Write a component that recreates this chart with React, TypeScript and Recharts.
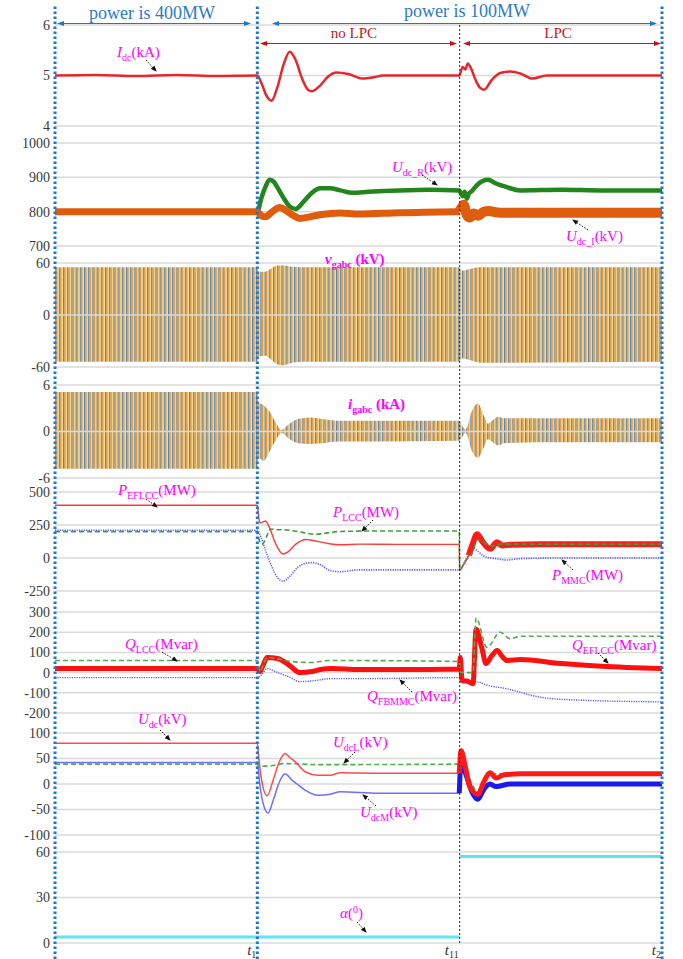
import React from 'react';
import { ComposedChart, Line, Area, XAxis, YAxis, ReferenceLine } from 'recharts';

// time axis runs 0 .. t2, with t1 = 1, t11 = 2, t2 = 3
const xTicks = [1, 2, 3];
const xTickLabels = ['1', '11', '2'];

// panel tick labels
const p1Ticks = [6, 5, 4];
const p2Ticks = [1000, 900, 800, 700];
const p3Ticks = [60, 0, -60];
const p4Ticks = [6, 0, -6];
const p5Ticks = [500, 250, 0, -250];
const p6Ticks = [300, 200, 100, 0, -100, -200];
const p7Ticks = [100, 50, 0, -50, -100];
const p8Ticks = [60, 30, 0];

// Idc (kA)
const idc = [
  [0, 5], [0.2, 5.01], [0.4, 4.99], [0.6, 5.01], [0.8, 4.99], [1.0, 5.0], [1.02, 4.85], [1.045, 4.6],
  [1.07, 4.5], [1.1, 4.78], [1.13, 5.22], [1.16, 5.47], [1.19, 5.3], [1.22, 4.95], [1.25, 4.72],
  [1.27, 4.69], [1.31, 4.8], [1.35, 4.98], [1.39, 5.06], [1.45, 5.03], [1.52, 4.94], [1.58, 4.97],
  [1.62, 5.0], [1.8, 5.0], [1.998, 5.0], [2.015, 5.17], [2.028, 5.12], [2.04, 5.24], [2.055, 5.15],
  [2.08, 4.9], [2.1, 4.76], [2.12, 4.72], [2.16, 4.92], [2.2, 5.05], [2.25, 5.08], [2.3, 5.04],
  [2.36, 4.94], [2.43, 5.0], [3, 5.0],
];

// Udc_R / Udc_I (kV)
const udcR = [
  [0, 800], [1.0, 800], [1.02, 840], [1.04, 872], [1.06, 893], [1.08, 888], [1.1, 870], [1.13, 840],
  [1.16, 815], [1.19, 808], [1.23, 830], [1.27, 855], [1.31, 868], [1.36, 868], [1.41, 862],
  [1.47, 855], [1.55, 858], [1.7, 862], [1.85, 864], [1.998, 862], [2.015, 845], [2.025, 858],
  [2.035, 838], [2.045, 852], [2.06, 860], [2.09, 880], [2.14, 893], [2.18, 882], [2.23, 872],
  [2.3, 862], [2.5, 864], [2.7, 862], [3, 862],
];
const udcI = [
  [0, 800], [1.0, 800], [1.02, 788], [1.04, 785], [1.07, 798], [1.11, 812], [1.15, 800], [1.18, 788],
  [1.21, 780], [1.26, 785], [1.31, 791], [1.41, 796], [1.5, 793], [1.7, 797], [1.998, 800],
];
const udcILpc = [
  [1.998, 800], [2.01, 812], [2.02, 820], [2.035, 790], [2.05, 783], [2.07, 795], [2.09, 788],
  [2.12, 800], [2.14, 802], [2.2, 797], [3, 797],
];

// vgabc (kV) and igabc (kA) envelopes: [t, low, high]
const vgEnv = [
  [0, -54, 55], [1.0, -54, 55], [1.005, -48, 50], [1.04, -47, 50], [1.07, -52, 54], [1.1, -57, 57],
  [1.13, -58, 57], [1.16, -56, 56], [1.22, -54, 55], [1.998, -54, 55], [2.01, -50, 51],
  [2.05, -52, 53], [2.1, -55, 55], [3, -54, 55],
];
const igEnv = [
  [0, -4.8, 5.1], [1.0, -4.8, 5.1], [1.005, -3.4, 3.8], [1.03, -3.8, 3.4], [1.06, -2.6, 2.6],
  [1.09, -1.2, 1.2], [1.12, -0.2, 0.2], [1.15, -0.8, 0.8], [1.2, -1.5, 1.6], [1.26, -1.6, 1.8],
  [1.32, -1.5, 1.6], [1.4, -1.3, 1.4], [1.6, -1.3, 1.4], [1.998, -1.2, 1.4], [2.015, -0.6, 0.6],
  [2.03, -0.2, 0.3], [2.06, -2.5, 2.6], [2.09, -3.4, 3.6], [2.12, -2, 2], [2.14, -1, 1],
  [2.17, -1.5, 1.6], [2.19, -1.8, 1.9], [2.22, -1.5, 1.7], [2.4, -1.4, 1.7], [3, -1.4, 1.7],
];

// P (MW)
const pEflcc = [
  [0, 400], [1.0, 400], [1.005, 330], [1.013, 265], [1.03, 275], [1.04, 280], [1.06, 230],
  [1.09, 110], [1.127, 30], [1.15, 45], [1.19, 105], [1.24, 140], [1.29, 128], [1.35, 110],
  [1.41, 100], [1.5, 105], [1.7, 103], [1.998, 103], [2.0, -95], [2.02, -50], [2.045, 20],
];
const pEflccLpc = [
  [2.045, 20], [2.065, 110], [2.086, 180], [2.11, 130], [2.15, 70], [2.185, 120], [2.21, 95],
  [2.25, 100], [2.4, 105], [3, 105],
];
const pLcc = [
  [0, 200], [1.0, 200], [1.01, 130], [1.025, 105], [1.045, 160], [1.065, 220], [1.09, 215],
  [1.15, 212], [1.2, 200], [1.29, 180], [1.4, 200], [1.6, 205], [1.998, 205], [2.0, -90],
  [2.03, -20], [2.06, 30], [2.09, 140], [2.12, 120], [2.16, 90], [2.2, 105], [3, 105],
];
const pMmc = [
  [0, 210], [1.0, 210], [1.02, 150], [1.04, 60], [1.07, -60], [1.1, -150], [1.127, -175],
  [1.16, -140], [1.2, -70], [1.24, -40], [1.27, -35], [1.31, -50], [1.36, -95], [1.41, -104],
  [1.5, -90], [1.7, -90], [1.998, -90], [2.02, -40], [2.05, 40], [2.066, 75], [2.09, 50],
  [2.12, 15], [2.135, 5], [2.18, -5], [2.23, -15], [2.3, -5], [2.5, 0], [3, 0],
];

// Q (Mvar)
const qEflcc = [
  [0, 20], [1.0, 20], [1.013, 5], [1.03, 40], [1.048, 75], [1.1, 70], [1.16, 35], [1.21, 0],
  [1.27, 5], [1.31, 15], [1.37, 20], [1.5, 15], [1.7, 15], [1.998, 18], [2.003, 75], [2.012, -40],
  [2.036, -42], [2.066, -55], [2.081, 215], [2.11, 120], [2.13, 45], [2.16, 85], [2.185, 110],
  [2.21, 80], [2.234, 60], [2.3, 65], [2.5, 45], [2.7, 32], [3, 20],
];
const qLcc = [
  [0, 60], [1.0, 60], [1.013, 5], [1.03, 40], [1.048, 75], [1.1, 68], [1.14, 60], [1.2, 52],
  [1.27, 50], [1.35, 60], [1.998, 55], [2.006, 0], [2.066, 0], [2.081, 270], [2.135, 125],
  [2.2, 200], [2.25, 168], [2.3, 180], [3, 180],
];
const qFbmmc = [
  [0, -25], [1.0, -25], [1.025, -5], [1.048, 20], [1.1, 0], [1.16, -23], [1.21, -45], [1.28, -40],
  [1.36, -30], [1.5, -30], [1.998, -25], [2.036, -38], [2.06, -45], [2.1, -48], [2.115, -55],
  [2.234, -80], [2.4, -122], [2.56, -135], [3, -145],
];

// Udc (kV)
const udc = [
  [0, 80], [1.0, 80], [1.005, 60], [1.02, 10], [1.048, -23], [1.08, 10], [1.11, 45], [1.137, 60],
  [1.16, 52], [1.186, 44], [1.236, 24], [1.3, 17], [1.36, 17], [1.41, 22], [1.6, 21], [1.998, 21],
];
const udcLpc = [
  [1.998, 21], [2.007, 65], [2.03, 30], [2.05, -5], [2.09, -20], [2.12, 5], [2.15, 22],
  [2.18, 12], [2.22, 18], [2.3, 20], [3, 20],
];
const udcM = [
  [0, 42], [1.0, 42], [1.012, 0], [1.03, -40], [1.053, -57], [1.08, -30], [1.11, 5], [1.137, 20],
  [1.17, 8], [1.196, 0], [1.236, -12], [1.3, -22], [1.36, -20], [1.41, -15], [1.6, -18], [1.998, -18],
];
const udcMLpc = [
  [1.998, -18], [2.007, 45], [2.03, 20], [2.06, -15], [2.09, -30], [2.12, -10], [2.15, 0],
  [2.18, -5], [2.25, 0], [3, 0],
];
const udcL = [
  [0, 39], [1.0, 39], [1.02, 35], [1.05, 35], [1.137, 40], [1.3, 38], [1.998, 39], [2.007, 40],
  [2.03, 30], [2.06, 0], [2.09, -15], [2.15, 20], [3, 20],
];

// alpha (deg), before and after t11
const alphaNoLpc = [[0, 4], [2.0, 4]];
const alphaLpc = [[2.0, 57], [3, 57]];

// layout: where each panel's top and bottom tick sit (px)
const PLOT_TOP = 5;
const PLOT_BOTTOM = 959;
const panels = [
  { id: 'p1', ticks: p1Ticks, yTop: 25, yBot: 126 },
  { id: 'p2', ticks: p2Ticks, yTop: 143, yBot: 246 },
  { id: 'p3', ticks: p3Ticks, yTop: 263, yBot: 367 },
  { id: 'p4', ticks: p4Ticks, yTop: 385, yBot: 478 },
  { id: 'p5', ticks: p5Ticks, yTop: 492, yBot: 591 },
  { id: 'p6', ticks: p6Ticks, yTop: 612, yBot: 713 },
  { id: 'p7', ticks: p7Ticks, yTop: 733, yBot: 835 },
  { id: 'p8', ticks: p8Ticks, yTop: 852, yBot: 943 },
];

const scaleOf = (p) => (p.yBot - p.yTop) / (p.ticks[0] - p.ticks[p.ticks.length - 1]);
const domainOf = (p) => {
  const s = scaleOf(p);
  const vTop = p.ticks[0];
  const vBot = p.ticks[p.ticks.length - 1];
  return [vBot - (PLOT_BOTTOM - p.yBot) / s, vTop + (p.yTop - PLOT_TOP) / s];
};
const valueAt = (p, px) => p.ticks[0] + (p.yTop - px) / scaleOf(p);

const pts = (arr) => arr.map(([t, v]) => ({ t, v }));
const env = (arr) => arr.map(([t, lo, hi]) => ({ t, r: [lo, hi] }));

const SERIF = '"Liberation Serif", "Times New Roman", serif';
const MAG = '#ff00ff';
const BLUE = '#1d76cf';

const XTick = (props) => {
  const { x, y, payload } = props;
  const i = xTicks.indexOf(payload.value);
  return (
    <text x={x - 1} y={y} textAnchor="end" fontFamily={SERIF} fill="#333">
      <tspan fontStyle="italic" fontSize={15}>t</tspan>
      <tspan fontSize={10} dy={3}>{xTickLabels[i]}</tspan>
    </text>
  );
};

const VarLabel = ({ x, y, main, sub, unit, bold }) => (
  <text x={x} y={y} fill={MAG} fontFamily={SERIF} fontSize={15} fontWeight={bold ? 'bold' : 'normal'}>
    <tspan fontStyle="italic">{main}</tspan>
    <tspan fontSize={10} dy={4}>{sub}</tspan>
    <tspan dy={-4}>{unit}</tspan>
  </text>
);

const Pointer = ({ x1, y1, x2, y2 }) => (
  <line x1={x1} y1={y1} x2={x2} y2={y2} stroke="#111" strokeWidth={1} strokeDasharray="1.5 1.5" markerEnd="url(#ptr)" />
);

const Overlay = () => (
  <svg width={683} height={959} style={{ position: 'absolute', left: 0, top: 0, pointerEvents: 'none' }}>
    <defs>
      <marker id="ptr" markerWidth="6" markerHeight="6" refX="5" refY="3" orient="auto">
        <path d="M0,0.5 L6,3 L0,5.5 z" fill="#111" />
      </marker>
      <marker id="bh" markerWidth="7" markerHeight="6" refX="6" refY="3" orient="auto-start-reverse">
        <path d="M0,0.5 L7,3 L0,5.5 z" fill={BLUE} />
      </marker>
      <marker id="rh" markerWidth="7" markerHeight="6" refX="6" refY="3" orient="auto-start-reverse">
        <path d="M0,0.5 L7,3 L0,5.5 z" fill="#d01010" />
      </marker>
    </defs>
    <text x={152} y={19} textAnchor="middle" fontFamily={SERIF} fontSize={18} fill="#2b7bc4">power is 400MW</text>
    <text x={467} y={17} textAnchor="middle" fontFamily={SERIF} fontSize={18} fill="#2b7bc4">power is 100MW</text>
    <line x1={58} y1={23.5} x2={250} y2={23.5} stroke={BLUE} strokeWidth={1} markerStart="url(#bh)" markerEnd="url(#bh)" />
    <line x1={273} y1={23.5} x2={656} y2={23.5} stroke={BLUE} strokeWidth={1} markerStart="url(#bh)" markerEnd="url(#bh)" />
    <text x={377} y={38} textAnchor="end" fontFamily={SERIF} fontSize={15} fill="#c81818">no LPC</text>
    <text x={558} y={38} textAnchor="middle" fontFamily={SERIF} fontSize={15} fill="#c81818">LPC</text>
    <line x1={261} y1={43.5} x2={456} y2={43.5} stroke="#d01010" strokeWidth={1} markerStart="url(#rh)" markerEnd="url(#rh)" />
    <line x1={464} y1={43.5} x2={660} y2={43.5} stroke="#d01010" strokeWidth={1} markerStart="url(#rh)" markerEnd="url(#rh)" />

    <VarLabel x={117} y={57} main="I" sub="dc" unit="(kA)" />
    <Pointer x1={146} y1={60} x2={156} y2={71} />
    <VarLabel x={392} y={172} main="U" sub="dc_R" unit="(kV)" />
    <Pointer x1={422} y1={175} x2={437} y2={185} />
    <VarLabel x={566} y={241} main="U" sub="dc_I" unit="(kV)" />
    <Pointer x1={588} y1={230} x2={573} y2={220} />
    <VarLabel x={325} y={264} main="v" sub="gabc" unit=" (kV)" bold />
    <VarLabel x={348} y={409} main="i" sub="gabc" unit=" (kA)" bold />
    <VarLabel x={118} y={495} main="P" sub="EFLCC" unit="(MW)" />
    <Pointer x1={146} y1={499} x2={157} y2={507} />
    <VarLabel x={333} y={517} main="P" sub="LCC" unit="(MW)" />
    <Pointer x1={373} y1={520} x2={362} y2={531} />
    <VarLabel x={552} y={580} main="P" sub="MMC" unit="(MW)" />
    <Pointer x1={573} y1={570} x2={562} y2={560} />
    <VarLabel x={125} y={649} main="Q" sub="LCC" unit="(Mvar)" />
    <Pointer x1={162} y1={652} x2={177} y2={661} />
    <VarLabel x={367} y={701} main="Q" sub="FBMMC" unit="(Mvar)" />
    <Pointer x1={412} y1={692} x2={400} y2={680} />
    <VarLabel x={572} y={650} main="Q" sub="EFLCC" unit="(Mvar)" />
    <Pointer x1={598} y1={653} x2={608} y2={663} />
    <VarLabel x={138} y={724} main="U" sub="dc" unit="(kV)" />
    <Pointer x1={160} y1={730} x2={170} y2={740} />
    <VarLabel x={333} y={747} main="U" sub="dcL" unit="(kV)" />
    <Pointer x1={355} y1={752} x2={344} y2={763} />
    <VarLabel x={360} y={817} main="U" sub="dcM" unit="(kV)" />
    <Pointer x1={376} y1={806} x2={363} y2={795} />
    <text x={340} y={918} fill={MAG} fontFamily={SERIF} fontSize={15}>
      <tspan fontStyle="italic">α</tspan>
      <tspan>(</tspan>
      <tspan fontSize={10} dy={-5}>0</tspan>
      <tspan dy={5}>)</tspan>
    </text>
    <Pointer x1={357} y1={922} x2={366} y2={932} />
  </svg>
);

export default function App() {
  const P8 = panels[7];
  return (
    <div style={{ position: 'absolute', left: 0, top: 0, width: 683, height: 959, background: '#fff' }}>
      <ComposedChart width={683} height={959} margin={{ top: PLOT_TOP, right: 21, bottom: 0, left: 54.92 }}>
        <defs>
          <pattern id="weave" patternUnits="userSpaceOnUse" width="4.2" height="10">
            <rect width="4.2" height="10" fill="#f5dc94" />
            <rect x="0" width="1" height="10" fill="#4a86c4" />
            <rect x="1" width="0.5" height="10" fill="#c99a5a" />
            <rect x="1.5" width="0.9" height="10" fill="#e98a30" />
            <rect x="2.4" width="0.4" height="10" fill="#d8a860" />
          </pattern>
        </defs>
        <XAxis
          type="number"
          dataKey="t"
          domain={[0, 3]}
          ticks={xTicks}
          height={0.01}
          mirror
          axisLine={false}
          tickLine={false}
          tickSize={0}
          tickMargin={4}
          tick={<XTick />}
          interval={0}
        />
        {panels.map((p) => (
          <YAxis
            key={p.id}
            yAxisId={p.id}
            type="number"
            width={0.01}
            domain={domainOf(p)}
            allowDataOverflow
            ticks={p.ticks}
            interval={0}
            axisLine={false}
            tickLine={false}
            tickSize={0}
            tickMargin={5}
            tick={{ fontFamily: SERIF, fontSize: 14, fill: '#3a3a3a' }}
          />
        ))}
        {panels.flatMap((p) =>
          p.ticks.map((v) => (
            <ReferenceLine key={p.id + v} yAxisId={p.id} y={v} stroke="#dadada" strokeWidth={1.5} />
          ))
        )}

        <Line yAxisId="p1" data={pts(idc)} dataKey="v" type="monotone" stroke="#e8262b" strokeWidth={2.5} dot={false} isAnimationActive={false} />

        <Line yAxisId="p2" data={pts(udcR)} dataKey="v" type="monotone" stroke="#23861c" strokeWidth={4.5} dot={false} isAnimationActive={false} />
        <Line yAxisId="p2" data={pts(udcI)} dataKey="v" type="monotone" stroke="#df5c0c" strokeWidth={7} dot={false} isAnimationActive={false} />
        <Line yAxisId="p2" data={pts(udcILpc)} dataKey="v" type="monotone" stroke="#df5c0c" strokeWidth={10} dot={false} isAnimationActive={false} />

        <Area yAxisId="p3" data={env(vgEnv)} dataKey="r" type="monotone" stroke="none" fill="url(#weave)" fillOpacity={1} isAnimationActive={false} />
        <Area yAxisId="p4" data={env(igEnv)} dataKey="r" type="monotone" stroke="none" fill="url(#weave)" fillOpacity={1} isAnimationActive={false} />

        <Line yAxisId="p5" data={pts(pMmc)} dataKey="v" type="monotone" stroke="#5a5aff" strokeWidth={1.6} strokeDasharray="1.2 1.2" dot={false} isAnimationActive={false} />
        <Line yAxisId="p5" data={pts(pEflcc)} dataKey="v" type="monotone" stroke="#ff3b3b" strokeWidth={1.4} dot={false} isAnimationActive={false} />
        <Line yAxisId="p5" data={pts(pEflccLpc)} dataKey="v" type="monotone" stroke="#ff1a1a" strokeWidth={6} dot={false} isAnimationActive={false} />
        <Line yAxisId="p5" data={pts(pLcc)} dataKey="v" type="monotone" stroke="#3f9e3a" strokeWidth={1.6} strokeDasharray="5 3" dot={false} isAnimationActive={false} />

        <Line yAxisId="p6" data={pts(qFbmmc)} dataKey="v" type="monotone" stroke="#5a5aff" strokeWidth={1.4} strokeDasharray="1.2 1.2" dot={false} isAnimationActive={false} />
        <Line yAxisId="p6" data={pts(qEflcc)} dataKey="v" type="monotone" stroke="#ff1010" strokeWidth={5} dot={false} isAnimationActive={false} />
        <Line yAxisId="p6" data={pts(qLcc)} dataKey="v" type="monotone" stroke="#4fae4a" strokeWidth={1.6} strokeDasharray="5 3" dot={false} isAnimationActive={false} />

        <Line yAxisId="p7" data={pts(udcL)} dataKey="v" type="monotone" stroke="#4fae4a" strokeWidth={1.6} strokeDasharray="5 3" dot={false} isAnimationActive={false} />
        <Line yAxisId="p7" data={pts(udcM)} dataKey="v" type="monotone" stroke="#6f6fff" strokeWidth={1.5} dot={false} isAnimationActive={false} />
        <Line yAxisId="p7" data={pts(udcMLpc)} dataKey="v" type="monotone" stroke="#1a1aee" strokeWidth={5} dot={false} isAnimationActive={false} />
        <Line yAxisId="p7" data={pts(udc)} dataKey="v" type="monotone" stroke="#ff4a4a" strokeWidth={1.5} dot={false} isAnimationActive={false} />
        <Line yAxisId="p7" data={pts(udcLpc)} dataKey="v" type="monotone" stroke="#ff1a1a" strokeWidth={5} dot={false} isAnimationActive={false} />

        <Line yAxisId="p8" data={pts(alphaNoLpc)} dataKey="v" type="linear" stroke="#5ee6ee" strokeWidth={3} dot={false} isAnimationActive={false} />
        <Line yAxisId="p8" data={pts(alphaLpc)} dataKey="v" type="linear" stroke="#5ee6ee" strokeWidth={3} dot={false} isAnimationActive={false} />

        <ReferenceLine
          yAxisId="p8"
          segment={[{ x: 2, y: 0 }, { x: 2, y: valueAt(P8, 25) }]}
          stroke="#1c2550"
          strokeWidth={1}
          strokeDasharray="2 2"
        />
        {[0, 1, 3].map((x) => (
          <ReferenceLine key={'v' + x} yAxisId="p1" x={x} stroke={BLUE} strokeWidth={3} strokeDasharray="2.5 2.5" />
        ))}
      </ComposedChart>
      <Overlay />
    </div>
  );
}
